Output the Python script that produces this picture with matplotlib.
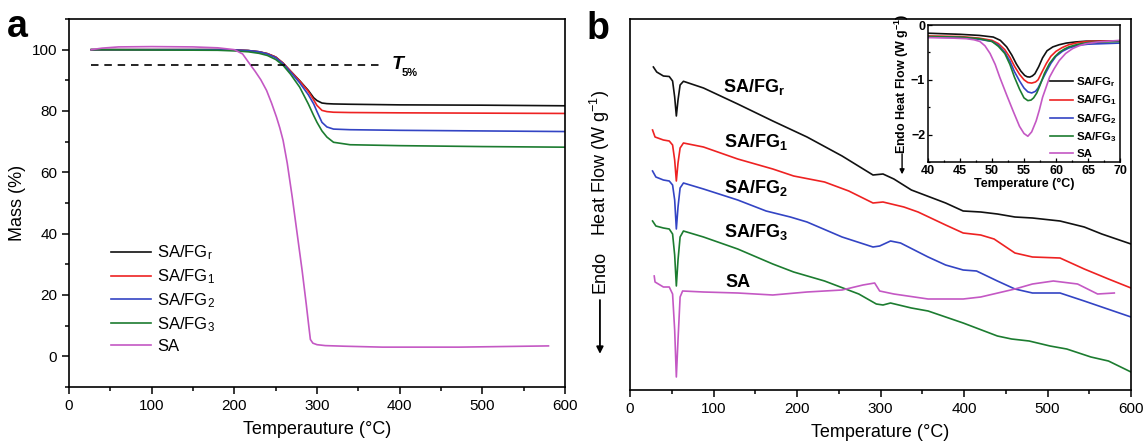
import matplotlib
matplotlib.use("Agg")
import matplotlib.pyplot as plt
from matplotlib.ticker import MultipleLocator, NullLocator

plt.rcParams['font.family'] = ['Liberation Sans', 'DejaVu Sans']
plt.rcParams['mathtext.fontset'] = 'custom'
plt.rcParams['mathtext.rm'] = 'Liberation Sans'
plt.rcParams['mathtext.it'] = 'Liberation Sans:italic'
plt.rcParams['mathtext.bf'] = 'Liberation Sans:bold'

# ---- colours / names ----
names = [r"SA/FG$_\mathrm{r}$", r"SA/FG$_\mathrm{1}$", r"SA/FG$_\mathrm{2}$",
         r"SA/FG$_\mathrm{3}$", "SA"]
names_bold = [r"SA/FG$_\mathbf{r}$", r"SA/FG$_\mathbf{1}$", r"SA/FG$_\mathbf{2}$",
              r"SA/FG$_\mathbf{3}$", "SA"]
colors = ["#111111", "#ee2222", "#3344c4", "#1c7c30", "#c458c4"]

# ---- panel a: TGA (temperature in C, mass in %) ----
tga_T = [27, 100, 180, 200, 217, 230, 240, 250, 259, 268, 279, 289.5, 296, 300, 306,
         312, 320, 340, 400, 500, 600]
fgr_mass = [100, 100, 100, 99.9, 99.7, 99.3, 98.7, 97.6, 95.6, 93.0, 89.9, 86.7, 84.3,
            83.4, 82.6, 82.4, 82.3, 82.2, 82.0, 81.9, 81.7]
fg1_mass = [100, 100, 100, 99.9, 99.7, 99.3, 98.7, 97.6, 95.6, 93.0, 89.8, 86.4, 83.6,
            81.8, 80.2, 79.8, 79.6, 79.5, 79.4, 79.3, 79.2]
fg2_mass = [100, 100, 100, 99.9, 99.7, 99.3, 98.6, 97.4, 95.4, 92.7, 89.2, 85.3, 82.3,
            79.8, 76.3, 74.8, 74.1, 73.9, 73.7, 73.5, 73.3]
fg3_mass = [100, 99.9, 99.8, 99.6, 99.3, 98.8, 98.1, 96.8, 94.9, 92.0, 87.8, 82.3, 78.5,
            76.3, 73.5, 71.5, 69.8, 69.0, 68.7, 68.4, 68.2]
sa_T = [27, 40, 60, 100, 150, 180, 200, 210, 219, 225, 232, 239, 245, 251, 255, 259, 264,
        270, 276, 282, 287, 290, 292, 295, 300, 310, 333, 379, 472, 580]
sa_mass = [100, 100.5, 100.9, 101.0, 100.9, 100.6, 100.0, 98.6, 95.2, 93.0, 90.2, 86.7,
           82.6, 78.0, 74.5, 70.4, 63.0, 52.0, 40.0, 28.0, 17.0, 10.0, 5.5, 4.3, 3.8, 3.5,
           3.3, 3.0, 3.0, 3.4]

# ---- panel b: DSC (arbitrary stacked heat flow) ----
fgr_T = [28, 32, 40, 47, 51, 53.5, 55.5, 57.5, 60, 64, 88, 129, 171, 212, 254, 291, 303,
         316, 337, 378, 399, 420, 440, 461, 482, 515, 544, 565, 600]
fgr_hf = [32.3, 31.8, 31.4, 31.35, 30.9, 29.3, 27.4, 29.0, 30.5, 30.87, 30.2, 28.6, 26.9,
          25.3, 23.4, 21.5, 21.6, 21.1, 20.0, 18.7, 17.9, 17.8, 17.6, 17.3, 17.2, 16.9,
          16.3, 15.6, 14.6]
fg1_T = [27, 30, 40, 47, 51, 53.5, 55.5, 57.5, 60, 64, 88, 129, 171, 196, 233, 262, 291,
         303, 328, 345, 378, 399, 420, 436, 461, 482, 515, 544, 573, 600]
fg1_hf = [26.0, 25.3, 25.0, 24.9, 24.5, 23.0, 20.9, 22.7, 24.2, 24.7, 24.3, 23.1, 22.1,
          21.4, 20.8, 19.9, 18.7, 18.8, 18.3, 17.8, 16.5, 15.7, 15.5, 15.1, 13.7, 13.3,
          13.2, 12.1, 11.1, 10.2]
fg2_T = [27, 31, 40, 47, 51, 53.5, 55.5, 57.5, 60, 64, 88, 129, 163, 192, 212, 254, 291,
         299, 312, 324, 357, 378, 399, 415, 440, 461, 482, 515, 544, 600]
fg2_hf = [21.9, 21.3, 21.0, 20.9, 20.5, 19.0, 16.1, 18.3, 20.2, 20.7, 20.1, 19.0, 17.9,
          17.3, 16.8, 15.3, 14.3, 14.4, 14.9, 14.7, 13.3, 12.5, 12.0, 11.9, 10.9, 10.1,
          9.7, 9.7, 8.9, 7.3]
fg3_T = [27, 31, 40, 47, 51, 53.5, 55.5, 57.5, 60, 64, 88, 129, 171, 196, 233, 274, 295,
         303, 312, 337, 357, 399, 440, 457, 478, 503, 523, 552, 573, 600]
fg3_hf = [16.9, 16.4, 16.2, 16.1, 15.6, 13.5, 10.4, 13.0, 15.3, 15.9, 15.3, 14.1, 12.6,
          11.8, 10.9, 9.6, 8.6, 8.5, 8.7, 8.2, 7.9, 6.7, 5.4, 5.1, 4.9, 4.4, 4.1, 3.3,
          2.9, 1.8]
sa_dsc_T = [29, 30, 40, 47, 51, 53.5, 55.5, 57.5, 60, 63, 88, 129, 171, 212, 254, 279,
            293, 299, 316, 357, 399, 420, 461, 482, 507, 536, 560, 580]
sa_hf = [11.4, 10.8, 10.3, 10.3, 9.6, 6.0, 1.3, 5.0, 9.3, 9.9, 9.8, 9.7, 9.5, 9.8, 10.0,
         10.5, 10.7, 9.9, 9.6, 9.1, 9.1, 9.3, 10.1, 10.6, 10.9, 10.6, 9.6, 9.7]
label_T = [111, 112, 112, 112, 114]
label_hf = [29.8, 24.3, 19.7, 15.3, 10.3]

# ---- inset: melting peaks ----
in_fgr_T = [40, 45, 48, 50.2, 51.3, 52.3, 53.1, 53.8, 54.5, 55.1, 55.5, 55.9, 56.3, 56.7,
            57.3, 57.9, 58.6, 59.5, 60.5, 61.6, 63, 64.7, 70]
in_fgr = [-0.15, -0.17, -0.19, -0.22, -0.28, -0.40, -0.55, -0.71, -0.84, -0.92, -0.945,
          -0.95, -0.93, -0.89, -0.76, -0.60, -0.47, -0.40, -0.36, -0.33, -0.31, -0.295, -0.29]
in_fg1_T = [40, 45, 48, 50, 51, 52, 52.8, 53.5, 54.3, 55, 55.6, 56.2, 56.8, 57.2, 57.8,
            58.5, 59.2, 60, 61, 62, 63.5, 65, 70]
in_fg1 = [-0.20, -0.21, -0.24, -0.28, -0.34, -0.45, -0.59, -0.75, -0.90, -1.00, -1.05,
          -1.06, -1.04, -1.00, -0.86, -0.70, -0.57, -0.48, -0.41, -0.36, -0.32, -0.30, -0.29]
in_fg2_T = [40, 45, 48, 50, 51, 52, 52.8, 53.5, 54.3, 55, 55.6, 56.2, 56.8, 57.2, 57.8,
            58.5, 59.2, 60, 61, 62, 63.5, 65, 70]
in_fg2 = [-0.22, -0.23, -0.26, -0.30, -0.37, -0.50, -0.66, -0.85, -1.02, -1.15, -1.22,
          -1.24, -1.21, -1.15, -1.01, -0.85, -0.70, -0.57, -0.48, -0.42, -0.37, -0.35, -0.33]
in_fg3_T = [40, 45, 48, 50, 51, 52, 52.8, 53.5, 54.3, 55, 55.6, 56.1, 56.5, 57, 57.5,
            58.2, 59, 59.8, 60.5, 61.3, 62, 63.5, 65, 70]
in_fg3 = [-0.21, -0.22, -0.25, -0.30, -0.39, -0.52, -0.72, -0.95, -1.17, -1.33, -1.38,
          -1.37, -1.33, -1.24, -1.10, -0.88, -0.70, -0.58, -0.50, -0.44, -0.40, -0.35,
          -0.32, -0.30]
in_sa_T = [40, 44, 46, 47.2, 48.1, 48.9, 49.7, 50.5, 51.2, 52.3, 53.3, 54.3, 55, 55.6,
           56.2, 56.9, 57.4, 57.9, 58.5, 59, 59.7, 60.5, 61.5, 62.6, 63.6, 64.7, 66.5, 70]
in_sa = [-0.23, -0.24, -0.25, -0.27, -0.30, -0.38, -0.52, -0.72, -0.95, -1.28, -1.57,
         -1.85, -1.98, -2.03, -1.95, -1.75, -1.55, -1.32, -1.12, -0.95, -0.80, -0.65,
         -0.52, -0.43, -0.38, -0.34, -0.31, -0.28]

W, H = 1143, 444
fig = plt.figure(figsize=(W / 100, H / 100), dpi=100)

def px_axes(left, top, right, bottom):
    return fig.add_axes([left / W, 1 - bottom / H, (right - left) / W, (bottom - top) / H])

# ================= panel a =================
ax = px_axes(69, 19, 565, 387)
tga = [(tga_T, fgr_mass), (tga_T, fg1_mass), (tga_T, fg2_mass), (tga_T, fg3_mass), (sa_T, sa_mass)]
for (t, m), c, n in zip(tga, colors, names):
    ax.plot(t, m, color=c, lw=1.2, label=n)
ax.plot([27, 380], [95, 95], color="black", lw=1.2, ls=(0, (4.5, 3.5)))
ax.text(390, 93.6, "T", fontsize=14, fontweight="bold", style="italic")
ax.text(402, 91.4, "5%", fontsize=8, fontweight="bold")
ax.set_xlim(0, 600)
ax.set_ylim(-10, 110)
ax.xaxis.set_major_locator(MultipleLocator(100))
ax.xaxis.set_minor_locator(MultipleLocator(50))
ax.yaxis.set_major_locator(MultipleLocator(20))
ax.yaxis.set_minor_locator(MultipleLocator(10))
ax.tick_params(which="both", direction="out", labelsize=11, width=1.1, top=False, right=False)
ax.tick_params(which="major", length=5)
ax.tick_params(which="minor", length=3)
ax.set_xlabel("Temperauture (°C)", fontsize=13, labelpad=6)
ax.set_ylabel("Mass (%)", fontsize=13, labelpad=4)
for s in ax.spines.values():
    s.set_linewidth(1.2)
ax.legend(loc="upper left", bbox_to_anchor=(0.055, 0.43), frameon=False, fontsize=12,
          handlelength=2.4, handletextpad=0.35, labelspacing=0.3)
fig.text(7 / W, 1 - 37 / H, "a", fontsize=27, fontweight="bold", va="baseline")

# ================= panel b =================
bx = px_axes(630, 19, 1131, 390)
dsc = [(fgr_T, fgr_hf), (fg1_T, fg1_hf), (fg2_T, fg2_hf), (fg3_T, fg3_hf), (sa_dsc_T, sa_hf)]
for (t, h), c in zip(dsc, colors):
    bx.plot(t, h, color=c, lw=1.2)
for x, y, n in zip(label_T, label_hf, names_bold):
    bx.text(x, y, n, fontsize=13, fontweight="bold", va="baseline")
bx.set_xlim(0, 600)
bx.set_ylim(0, 37.1)
bx.xaxis.set_major_locator(MultipleLocator(100))
bx.xaxis.set_minor_locator(MultipleLocator(50))
bx.yaxis.set_major_locator(NullLocator())
bx.tick_params(which="both", direction="out", labelsize=11, width=1.1)
bx.tick_params(which="major", length=5)
bx.tick_params(which="minor", length=3)
bx.set_xlabel("Temperature (°C)", fontsize=13, labelpad=6)
for s in bx.spines.values():
    s.set_linewidth(1.2)
bx.text(-0.06, 0.612, "Heat Flow (W g$^{-1}$)", transform=bx.transAxes, rotation=90,
        ha="center", va="center", fontsize=13)
bx.text(-0.06, 0.318, "Endo", transform=bx.transAxes, rotation=90,
        ha="center", va="center", fontsize=13)
bx.annotate("", xy=(-0.06, 0.09), xytext=(-0.06, 0.25), xycoords="axes fraction",
            arrowprops=dict(arrowstyle="-|>", color="black", lw=1.3, mutation_scale=10))
fig.text(587 / W, 1 - 39 / H, "b", fontsize=27, fontweight="bold", va="baseline")

# ================= inset =================
ix = px_axes(928, 25, 1120, 162)
ins = [(in_fgr_T, in_fgr), (in_fg1_T, in_fg1), (in_fg2_T, in_fg2), (in_fg3_T, in_fg3), (in_sa_T, in_sa)]
for (t, h), c, n in zip(ins, colors, names_bold):
    ix.plot(t, h, color=c, lw=1.2, label=n)
ix.set_xlim(40, 70)
ix.set_ylim(-2.5, 0)
ix.xaxis.set_major_locator(MultipleLocator(5))
ix.xaxis.set_minor_locator(MultipleLocator(2.5))
ix.yaxis.set_major_locator(MultipleLocator(1))
ix.yaxis.set_minor_locator(MultipleLocator(0.5))
ix.tick_params(which="both", direction="in", labelsize=9, width=0.9, pad=2)
ix.tick_params(which="major", length=3)
ix.tick_params(which="minor", length=1.5)
for lab in ix.get_xticklabels() + ix.get_yticklabels():
    lab.set_fontweight("bold")
ix.set_xlabel("Temperature (°C)", fontsize=9, fontweight="bold", labelpad=1)
ix.text(-0.135, 0.57, r"Endo Heat Flow (W g$^{\mathbf{-1}}$)", transform=ix.transAxes,
        rotation=90, ha="center", va="center", fontsize=9, fontweight="bold")
ix.annotate("", xy=(-0.135, -0.11), xytext=(-0.135, 0.08), xycoords="axes fraction",
            arrowprops=dict(arrowstyle="-|>", color="black", lw=1.0, mutation_scale=7))
for s in ix.spines.values():
    s.set_linewidth(1.1)
ix.legend(loc="lower right", bbox_to_anchor=(1.04, -0.05), frameon=False,
          handlelength=2.0, handletextpad=0.3, labelspacing=0.4,
          prop={"weight": "bold", "size": 8.2})

fig.savefig("out.png", dpi=100)
